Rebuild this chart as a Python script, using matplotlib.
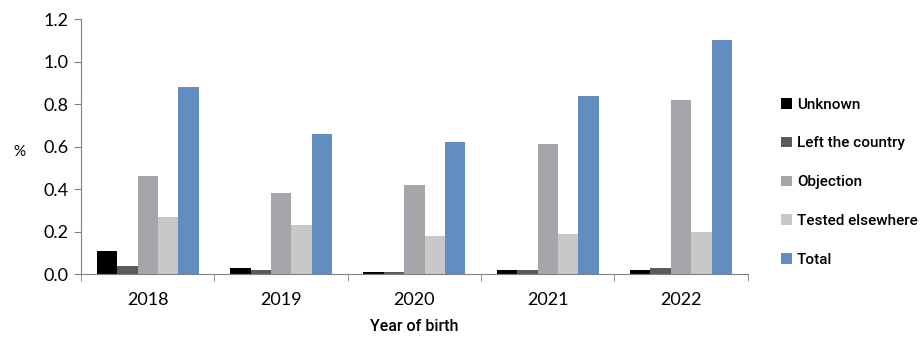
import matplotlib.pyplot as plt
import numpy as np

# Share of children not screened, by reason and year of birth
years = ["2018", "2019", "2020", "2021", "2022"]
unknown = [0.11, 0.03, 0.01, 0.02, 0.02]
left_country = [0.04, 0.02, 0.01, 0.02, 0.03]
objection = [0.46, 0.38, 0.42, 0.61, 0.82]
tested_elsewhere = [0.27, 0.23, 0.18, 0.19, 0.20]
total = [0.88, 0.66, 0.62, 0.84, 1.10]

series = [
    ("Unknown", unknown, "#000000"),
    ("Left the country", left_country, "#5b5b5f"),
    ("Objection", objection, "#a6a6aa"),
    ("Tested elsewhere", tested_elsewhere, "#c8c8c8"),
    ("Total", total, "#628dc1"),
]

label_font = ["Roboto", "DejaVu Sans"]
tick_font = ["Lato", "DejaVu Sans"]

fig = plt.figure(figsize=(9.22, 3.4), dpi=100)
ax = fig.add_axes([0.088, 0.194, 0.723, 0.750])

x = np.arange(len(years))
w = 0.153
for i, (name, vals, col) in enumerate(series):
    ax.bar(x + (i - 2) * w, vals, width=w, color=col, label=name)

ax.set_xlim(-0.5, len(years) - 0.5)
ax.set_ylim(0, 1.2)
yt = np.arange(0, 1.21, 0.2)
ax.set_yticks(yt)
ax.set_yticklabels([f"{v:.1f}" for v in yt], family=tick_font, fontsize=13)

# category labels centered, tick marks on group boundaries
ax.set_xticks(x)
ax.set_xticklabels(years, family=tick_font, fontsize=13)
ax.tick_params(axis="x", length=0, pad=13)
ax.set_xticks(np.arange(-0.5, len(years)), minor=True)
ax.tick_params(axis="x", which="minor", length=5, color="#808080")
ax.tick_params(axis="y", length=5, color="#808080", pad=4)

for s in ["top", "right"]:
    ax.spines[s].set_visible(False)
for s in ["left", "bottom"]:
    ax.spines[s].set_color("#808080")

ax.set_xlabel("Year of birth", family=label_font, fontsize=11.5, fontweight="medium", labelpad=8)
ax.set_ylabel("%", family=tick_font, fontsize=11, rotation=0, labelpad=22, va="center")
ax.yaxis.set_label_coords(-0.093, 0.48)

leg = ax.legend(loc="center left", bbox_to_anchor=(1.03, 0.36), frameon=False,
                prop={"family": label_font, "size": 11, "weight": "medium"},
                handlelength=0.7, handleheight=0.7, handletextpad=0.3,
                labelspacing=1.62)

fig.savefig("out.png", dpi=100)
